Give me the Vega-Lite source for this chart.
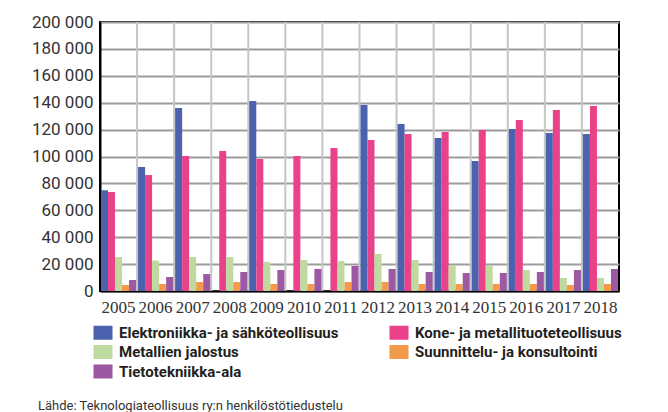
{
  "$schema": "https://vega.github.io/schema/vega-lite/v6.json",
  "width": 519,
  "height": 269,
  "autosize": {"type": "none"},
  "padding": {"left": 100, "top": 22, "right": 49, "bottom": 121},
  "background": "white",
  "config": {
    "view": {"stroke": "black", "strokeWidth": 2}
  },
  "title": {
    "text": "Lähde: Teknologiateollisuus ry:n henkilöstötiedustelu",
    "orient": "bottom",
    "anchor": "start",
    "frame": "group",
    "font": "Roboto",
    "fontSize": 13,
    "fontWeight": "normal",
    "color": "#333333",
    "offset": 20,
    "dx": -62
  },
  "resolve": {"axis": {"x": "independent"}},
  "data": {
    "values": [
      {"year": "2005", "series": "Elektroniikka- ja sähköteollisuus", "value": 75000},
      {"year": "2005", "series": "Kone- ja metallituoteteollisuus", "value": 73600},
      {"year": "2005", "series": "Metallien jalostus", "value": 25300},
      {"year": "2005", "series": "Suunnittelu- ja konsultointi", "value": 4500},
      {"year": "2005", "series": "Tietotekniikka-ala", "value": 8200},
      {"year": "2006", "series": "Elektroniikka- ja sähköteollisuus", "value": 92200},
      {"year": "2006", "series": "Kone- ja metallituoteteollisuus", "value": 86200},
      {"year": "2006", "series": "Metallien jalostus", "value": 22700},
      {"year": "2006", "series": "Suunnittelu- ja konsultointi", "value": 5200},
      {"year": "2006", "series": "Tietotekniikka-ala", "value": 10400},
      {"year": "2007", "series": "Elektroniikka- ja sähköteollisuus", "value": 136000},
      {"year": "2007", "series": "Kone- ja metallituoteteollisuus", "value": 100400},
      {"year": "2007", "series": "Metallien jalostus", "value": 25300},
      {"year": "2007", "series": "Suunnittelu- ja konsultointi", "value": 6700},
      {"year": "2007", "series": "Tietotekniikka-ala", "value": 12600},
      {"year": "2008", "series": "Kone- ja metallituoteteollisuus", "value": 104100},
      {"year": "2008", "series": "Metallien jalostus", "value": 25300},
      {"year": "2008", "series": "Suunnittelu- ja konsultointi", "value": 6700},
      {"year": "2008", "series": "Tietotekniikka-ala", "value": 14100},
      {"year": "2009", "series": "Elektroniikka- ja sähköteollisuus", "value": 141300},
      {"year": "2009", "series": "Kone- ja metallituoteteollisuus", "value": 98100},
      {"year": "2009", "series": "Metallien jalostus", "value": 21600},
      {"year": "2009", "series": "Suunnittelu- ja konsultointi", "value": 5200},
      {"year": "2009", "series": "Tietotekniikka-ala", "value": 15600},
      {"year": "2010", "series": "Kone- ja metallituoteteollisuus", "value": 100400},
      {"year": "2010", "series": "Metallien jalostus", "value": 23000},
      {"year": "2010", "series": "Suunnittelu- ja konsultointi", "value": 5200},
      {"year": "2010", "series": "Tietotekniikka-ala", "value": 16400},
      {"year": "2011", "series": "Kone- ja metallituoteteollisuus", "value": 106300},
      {"year": "2011", "series": "Metallien jalostus", "value": 22300},
      {"year": "2011", "series": "Suunnittelu- ja konsultointi", "value": 6700},
      {"year": "2011", "series": "Tietotekniikka-ala", "value": 18600},
      {"year": "2012", "series": "Elektroniikka- ja sähköteollisuus", "value": 138300},
      {"year": "2012", "series": "Kone- ja metallituoteteollisuus", "value": 112300},
      {"year": "2012", "series": "Metallien jalostus", "value": 27500},
      {"year": "2012", "series": "Suunnittelu- ja konsultointi", "value": 6700},
      {"year": "2012", "series": "Tietotekniikka-ala", "value": 16400},
      {"year": "2013", "series": "Elektroniikka- ja sähköteollisuus", "value": 124200},
      {"year": "2013", "series": "Kone- ja metallituoteteollisuus", "value": 116700},
      {"year": "2013", "series": "Metallien jalostus", "value": 23000},
      {"year": "2013", "series": "Suunnittelu- ja konsultointi", "value": 5200},
      {"year": "2013", "series": "Tietotekniikka-ala", "value": 14100},
      {"year": "2014", "series": "Elektroniikka- ja sähköteollisuus", "value": 113800},
      {"year": "2014", "series": "Kone- ja metallituoteteollisuus", "value": 118200},
      {"year": "2014", "series": "Metallien jalostus", "value": 19300},
      {"year": "2014", "series": "Suunnittelu- ja konsultointi", "value": 5200},
      {"year": "2014", "series": "Tietotekniikka-ala", "value": 13400},
      {"year": "2015", "series": "Elektroniikka- ja sähköteollisuus", "value": 96700},
      {"year": "2015", "series": "Kone- ja metallituoteteollisuus", "value": 119700},
      {"year": "2015", "series": "Metallien jalostus", "value": 18600},
      {"year": "2015", "series": "Suunnittelu- ja konsultointi", "value": 5200},
      {"year": "2015", "series": "Tietotekniikka-ala", "value": 13400},
      {"year": "2016", "series": "Elektroniikka- ja sähköteollisuus", "value": 120400},
      {"year": "2016", "series": "Kone- ja metallituoteteollisuus", "value": 127100},
      {"year": "2016", "series": "Metallien jalostus", "value": 15600},
      {"year": "2016", "series": "Suunnittelu- ja konsultointi", "value": 5200},
      {"year": "2016", "series": "Tietotekniikka-ala", "value": 14100},
      {"year": "2017", "series": "Elektroniikka- ja sähköteollisuus", "value": 117500},
      {"year": "2017", "series": "Kone- ja metallituoteteollisuus", "value": 134600},
      {"year": "2017", "series": "Metallien jalostus", "value": 9700},
      {"year": "2017", "series": "Suunnittelu- ja konsultointi", "value": 4500},
      {"year": "2017", "series": "Tietotekniikka-ala", "value": 15600},
      {"year": "2018", "series": "Elektroniikka- ja sähköteollisuus", "value": 116700},
      {"year": "2018", "series": "Kone- ja metallituoteteollisuus", "value": 137500},
      {"year": "2018", "series": "Metallien jalostus", "value": 9700},
      {"year": "2018", "series": "Suunnittelu- ja konsultointi", "value": 5200},
      {"year": "2018", "series": "Tietotekniikka-ala", "value": 16400}
    ]
  },
  "layer": [
    {
      "transform": [{"filter": "datum.series === 'Metallien jalostus' && datum.year !== '2005'"}],
      "mark": {"type": "rule", "color": "#c6c6c6", "strokeWidth": 2},
      "encoding": {
        "x": {"field": "year", "type": "nominal", "bandPosition": 0, "axis": null}
      }
    },
    {
      "mark": {"type": "bar"},
      "encoding": {
        "x": {
          "field": "year",
          "type": "nominal",
          "scale": {"paddingInner": 0, "paddingOuter": 0},
          "axis": {
            "title": null,
            "labelAngle": 0,
            "labelFont": "Liberation Sans Narrow",
            "labelFontSize": 17,
            "labelColor": "#333333",
            "labelPadding": 8,
            "ticks": false,
            "domainColor": "black",
            "domainWidth": 2,
            "grid": false
          }
        },
        "xOffset": {
          "field": "series",
          "type": "nominal",
          "sort": ["Elektroniikka- ja sähköteollisuus", "Kone- ja metallituoteteollisuus", "Metallien jalostus", "Suunnittelu- ja konsultointi", "Tietotekniikka-ala"],
          "scale": {"paddingInner": 0, "paddingOuter": 0.14}
        },
        "y": {
          "field": "value",
          "type": "quantitative",
          "scale": {"domain": [0, 200000], "nice": false},
          "axis": {
            "title": null,
            "values": [0, 20000, 40000, 60000, 80000, 100000, 120000, 140000, 160000, 180000, 200000],
            "labelExpr": "replace(format(datum.value, ','), ',', ' ')",
            "labelFont": "Roboto",
            "labelFontSize": 17,
            "labelColor": "#333333",
            "labelPadding": 7,
            "ticks": false,
            "domainColor": "black",
            "domainWidth": 2,
            "grid": true,
            "gridColor": "#9c9c9c",
            "gridWidth": 1.8
          }
        },
        "color": {
          "field": "series",
          "type": "nominal",
          "sort": ["Elektroniikka- ja sähköteollisuus", "Kone- ja metallituoteteollisuus", "Metallien jalostus", "Suunnittelu- ja konsultointi", "Tietotekniikka-ala"],
          "scale": {
            "domain": ["Elektroniikka- ja sähköteollisuus", "Kone- ja metallituoteteollisuus", "Metallien jalostus", "Suunnittelu- ja konsultointi", "Tietotekniikka-ala"],
            "range": ["#4b63ae", "#e9428a", "#bfda9f", "#f49a4c", "#9c58a3"]
          },
          "legend": {
            "orient": "none",
            "legendX": -4.5,
            "legendY": 303,
            "direction": "horizontal",
            "columns": 2,
            "title": null,
            "symbolType": "M-1.36,-1H1.36V1H-1.36Z",
            "symbolSize": 196,
            "symbolStrokeWidth": 0,
            "symbolOpacity": 1,
            "labelFont": "Roboto",
            "labelFontSize": 15,
            "labelFontWeight": "bold",
            "labelColor": "#231f20",
            "labelLimit": 400,
            "labelOffset": 8.5,
            "rowPadding": 3.5,
            "columnPadding": 50
          }
        }
      }
    }
  ]
}
